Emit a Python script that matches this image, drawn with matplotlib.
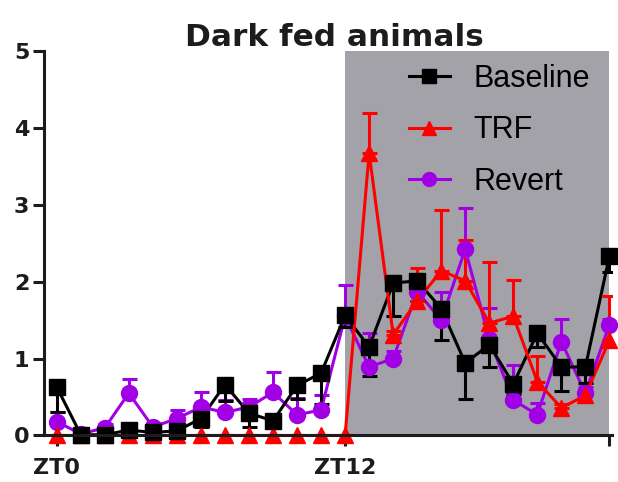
import numpy as np
import matplotlib.pyplot as plt
from matplotlib.lines import Line2D

# hours of the day, one point per ZT hour
zt = np.arange(24)

baseline = [0.63, 0.01, 0.01, 0.07, 0.04, 0.06, 0.22, 0.66, 0.29, 0.19, 0.65, 0.81,
            1.56, 1.15, 1.98, 2.01, 1.65, 0.94, 1.18, 0.67, 1.33, 0.89, 0.89, 2.33]
baseline_err = [0.33, 0.0, 0.0, 0.03, 0.02, 0.03, 0.11, 0.21, 0.18, 0.05, 0.18, 0.40,
                0.15, 0.38, 0.43, 0.26, 0.41, 0.46, 0.29, 0.13, 0.18, 0.31, 0.21, 0.21]

trf = [0.0, 0.0, 0.0, 0.0, 0.0, 0.0, 0.0, 0.0, 0.0, 0.0, 0.0, 0.0,
       0.0, 3.67, 1.31, 1.75, 2.14, 2.01, 1.46, 1.55, 0.70, 0.36, 0.52, 1.24]
trf_err = [0.0, 0.0, 0.0, 0.0, 0.0, 0.0, 0.0, 0.0, 0.0, 0.0, 0.0, 0.0,
           0.0, 0.52, 0.05, 0.42, 0.79, 0.53, 0.79, 0.47, 0.33, 0.05, 0.06, 0.57]

revert = [0.18, 0.02, 0.10, 0.55, 0.11, 0.22, 0.37, 0.30, 0.37, 0.56, 0.27, 0.33,
          1.55, 0.89, 1.00, 1.87, 1.50, 2.42, 1.25, 0.46, 0.27, 1.22, 0.55, 1.44]
revert_err = [0.13, 0.02, 0.05, 0.18, 0.05, 0.11, 0.19, 0.16, 0.10, 0.27, 0.22, 0.20,
              0.41, 0.44, 0.10, 0.10, 0.37, 0.53, 0.41, 0.46, 0.15, 0.30, 0.08, 0.08]

x_ticks = [0, 12, 23]
x_tick_labels = ["ZT0", "ZT12", ""]
y_ticks = [0, 1, 2, 3, 4, 5]

INK = "#1c1c1c"
GRAY = "#a3a2a8"
PURPLE = "#a100e6"
RED = "#ff0000"
LW = 2.2

fig = plt.figure(figsize=(6.18, 4.82), dpi=100)
ax = fig.add_axes([0.072, 0.0965, 0.918, 0.7983])

# dark phase
ax.axvspan(12, 23, color=GRAY, lw=0, zorder=0)

zeros = np.zeros(24)
# (name, values, lower err, upper err, colour, marker, line z, marker z)
series = [
    ("Revert", revert, zeros, revert_err, PURPLE, "o", 2, 5),
    ("Baseline", baseline, baseline_err, zeros, "black", "s", 3, 7),
    ("TRF", trf, zeros, trf_err, RED, "^", 4, 6),
]

for name, y, lo, hi, c, m, zl, zm in series:
    ax.errorbar(zt, y, yerr=[lo, hi], fmt="none", ecolor=c, elinewidth=LW,
                capsize=5.4, capthick=LW, zorder=zl)
    ax.plot(zt, y, color=c, lw=LW, zorder=zl)
    ax.plot(zt, y, ls="none", marker=m, ms=11.5, color=c, mec=c,
            zorder=zm, clip_on=False)

ax.set_xlim(-0.51, 23.1)
ax.set_ylim(0, 5)
ax.set_xticks(x_ticks)
ax.set_xticklabels(x_tick_labels)
ax.set_yticks(y_ticks)

for s in ["top", "right"]:
    ax.spines[s].set_visible(False)
for s in ["left", "bottom"]:
    ax.spines[s].set_linewidth(LW)
    ax.spines[s].set_color(INK)
    ax.spines[s].set_zorder(8)

ax.tick_params(axis="both", direction="out", length=8, width=LW, color=INK,
               labelcolor=INK, labelsize=16)
ax.tick_params(axis="x", pad=8)
ax.tick_params(axis="y", pad=3)
for lab in ax.get_xticklabels() + ax.get_yticklabels():
    lab.set_fontfamily("DejaVu Sans")
    lab.set_fontweight("bold")

handles = [
    Line2D([], [], color="black", marker="s", lw=LW, ms=10),
    Line2D([], [], color=RED, marker="^", lw=LW, ms=10),
    Line2D([], [], color=PURPLE, marker="o", lw=LW, ms=10),
]
fig.legend(handles, ["Baseline", "TRF", "Revert"], loc="upper left",
           bbox_to_anchor=(0.6618, 0.8678), frameon=False, borderpad=0,
           borderaxespad=0, handlelength=1.33, handletextpad=0.77,
           labelspacing=0.71, prop={"family": "Liberation Sans", "size": 22})

fig.text(0.541, 0.9046, "Dark fed animals", ha="center", va="baseline",
         fontsize=22.4, fontweight="bold", family="DejaVu Sans", color=INK)

fig.savefig("out.png", dpi=100)
